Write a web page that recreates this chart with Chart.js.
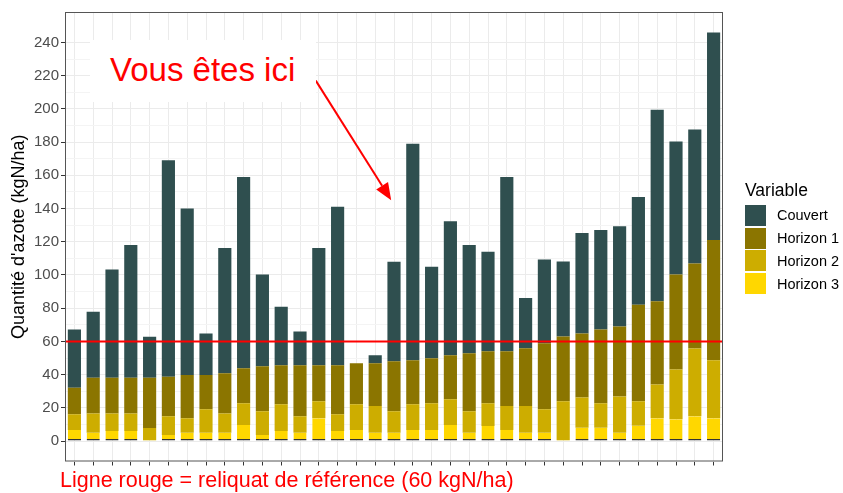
<!DOCTYPE html>
<html>
<head>
<meta charset="utf-8">
<script src="https://cdn.jsdelivr.net/npm/chart.js@4.4.1/dist/chart.umd.min.js"></script>
<style>
  body { margin: 0; background: #fff; }
  #wrap { position: relative; width: 843px; height: 493px; overflow: hidden; font-family: "Liberation Sans", Arial, sans-serif; }
  #chart-box { position: absolute; left: 0; top: 0; width: 843px; height: 493px; }
  #callout { position: absolute; left: 90px; top: 40px; width: 226px; height: 62px; background: #fff;
             color: #ff0000; font-size: 33px; line-height: 60px; padding-left: 20px; box-sizing: border-box; white-space: nowrap; }
  #caption { position: absolute; left: 60px; top: 468px; color: #ff0000; font-size: 21.5px; white-space: nowrap; }
  #legend { position: absolute; left: 745px; top: 179px; }
  #legend .title { font-size: 17.5px; color: #000; height: 25px; line-height: 22px; }
  #legend .item { display: flex; align-items: center; height: 22.8px; }
  #legend .key { width: 21px; height: 21px; margin-right: 11px; }
  #legend .lab { font-size: 14.5px; color: #000; }
</style>
</head>
<body>
<div id="wrap">
  <div id="chart-box"><canvas id="chart"></canvas></div>
  <div id="callout">Vous êtes ici</div>
  <div id="legend"></div>
  <div id="caption">Ligne rouge = reliquat de référence (60 kgN/ha)</div>
</div>
<script>
// parcelles (no labels shown on the axis)
const parcelles = ['P01', 'P02', 'P03', 'P04', 'P05', 'P06', 'P07', 'P08', 'P09', 'P10',
                   'P11', 'P12', 'P13', 'P14', 'P15', 'P16', 'P17', 'P18', 'P19', 'P20',
                   'P21', 'P22', 'P23', 'P24', 'P25', 'P26', 'P27', 'P28', 'P29', 'P30',
                   'P31', 'P32', 'P33', 'P34', 'P35'];

// nitrogen per layer (kgN/ha)
const horizon3 = [6.6, 5.0, 6.0, 6.0, 0.5, 3.6, 5.0, 5.0, 5.0, 9.6,
                  3.6, 6.0, 5.0, 13.8, 6.0, 6.6, 5.0, 5.0, 6.6, 6.6,
                  9.6, 5.0, 9.0, 6.6, 5.0, 5.0, 0.5, 8.0, 8.0, 5.0,
                  9.2, 13.8, 13.2, 15.0, 13.8];
const horizon2 = [9.6, 11.6, 10.6, 10.6, 7.3, 11.4, 8.8, 14.2, 11.6, 13.1,
                  14.4, 16.1, 10.0, 10.1, 10.2, 15.5, 16.1, 13.0, 15.5, 16.1,
                  15.5, 13.0, 13.7, 14.5, 16.1, 14.2, 23.4, 18.3, 14.7, 21.9,
                  14.7, 20.3, 29.9, 40.7, 34.9];
const horizon1 = [15.9, 21.5, 21.5, 21.5, 30.3, 23.7, 25.9, 20.5, 24.3, 21.2,
                  27.1, 23.6, 30.7, 21.8, 29.5, 24.8, 25.8, 30.1, 26.6, 27.2,
                  26.6, 34.9, 31.4, 33.0, 34.8, 39.7, 39.1, 38.5, 44.5, 42.1,
                  58.1, 50.1, 57.2, 51.2, 72.4];
const couvert = [35.1, 39.7, 65.2, 80.0, 24.7, 130.3, 100.3, 25.1, 75.4, 115.1,
                 55.2, 35.1, 20.3, 70.6, 95.3, 0, 4.8, 59.8, 130.3, 55.0,
                 80.6, 65.2, 59.8, 104.9, 30.3, 50.4, 45.1, 60.5, 59.9, 60.3,
                 65.0, 115.3, 80.0, 80.6, 124.9];

const seriesNames = ['Couvert', 'Horizon 1', 'Horizon 2', 'Horizon 3'];
const seriesColors = ['#2F4F4F', '#8B7500', '#CDAD00', '#FFD700'];

const yTickStep = 10;      // minor step, labels every 20
const reliquatRef = 60;

// callout arrow, in data units (category index, kgN/ha)
const arrowFrom = [12.84, 217];
const arrowTo = [16.85, 145];

const refLinePlugin = {
    id: 'refLine',
    afterDatasetsDraw(chart) {
        const { ctx, chartArea, scales } = chart;
        const y = scales.y.getPixelForValue(reliquatRef);
        ctx.save();
        ctx.strokeStyle = '#ff0000';
        ctx.lineWidth = 2;
        ctx.beginPath();
        ctx.moveTo(chartArea.left, y);
        ctx.lineTo(chartArea.right, y);
        ctx.stroke();

        // arrow towards "Vous êtes ici"
        const x0 = scales.x.getPixelForValue(0);
        const step = scales.x.getPixelForValue(1) - x0;
        const ax = x0 + arrowFrom[0] * step, ay = scales.y.getPixelForValue(arrowFrom[1]);
        const bx = x0 + arrowTo[0] * step, by = scales.y.getPixelForValue(arrowTo[1]);
        const ang = Math.atan2(by - ay, bx - ax);
        const headLen = 17, headW = 7;
        const hx = bx - headLen * Math.cos(ang), hy = by - headLen * Math.sin(ang);
        ctx.beginPath();
        ctx.moveTo(ax, ay);
        ctx.lineTo(hx, hy);
        ctx.stroke();
        ctx.fillStyle = '#ff0000';
        ctx.beginPath();
        ctx.moveTo(bx, by);
        ctx.lineTo(hx + headW * Math.sin(ang), hy - headW * Math.cos(ang));
        ctx.lineTo(hx - headW * Math.sin(ang), hy + headW * Math.cos(ang));
        ctx.closePath();
        ctx.fill();

        // panel border
        ctx.strokeStyle = '#555';
        ctx.lineWidth = 1;
        ctx.strokeRect(chartArea.left + 0.5, chartArea.top + 0.5,
                       chartArea.right - chartArea.left - 1, chartArea.bottom - chartArea.top - 1);
        ctx.restore();
    }
};

function gridColor(ctx) {
    const v = ctx.tick ? ctx.tick.value : null;
    if (v === null) return 'rgba(0,0,0,0)';
    if (v % 20 === 0) return '#ebebeb';
    if (v % 10 === 0) return '#f4f4f4';
    return 'rgba(0,0,0,0)';
}

const layers = [horizon3, horizon2, horizon1, couvert];
const datasets = layers.map((vals, i) => {
    const k = 3 - i;
    return {
        label: seriesNames[k],
        data: vals,
        backgroundColor: seriesColors[k],
        borderColor: '#333',
        borderWidth: k === 3 ? { top: 0, left: 0, right: 0, bottom: 1.5 } : 0,
        borderSkipped: false,
        barPercentage: 0.7,
        categoryPercentage: 1.0
    };
});

const ctx = document.getElementById('chart').getContext('2d');
new Chart(ctx, {
    type: 'bar',
    data: { labels: parcelles, datasets },
    options: {
        responsive: true,
        maintainAspectRatio: false,
        animation: false,
        layout: { padding: { left: 0, top: 12, right: 120, bottom: 27.5 } },
        plugins: {
            legend: { display: false },
            tooltip: { enabled: false }
        },
        scales: {
            x: {
                stacked: true,
                offset: true,
                afterFit: (s) => { s.height = 4; },
                ticks: { display: false },
                grid: { offset: false, color: '#ebebeb', drawTicks: true, tickLength: 4, tickColor: '#333' },
                border: { display: false }
            },
            y: {
                stacked: true,
                min: -12.3,
                max: 258.3,
                afterFit: (s) => { s.width = 65; },
                ticks: {
                    stepSize: yTickStep,
                    autoSkip: false,
                    color: '#4d4d4d',
                    font: { size: 15, family: '"Liberation Sans", Arial, sans-serif' },
                    padding: 2,
                    callback: (v) => (v % 20 === 0 ? v : '')
                },
                grid: {
                    color: gridColor,
                    tickLength: 4,
                    tickColor: (c) => (c.tick && c.tick.value % 20 === 0 ? '#333' : 'rgba(0,0,0,0)')
                },
                border: { display: false },
                title: {
                    display: true,
                    text: "Quantité d'azote (kgN/ha)",
                    color: '#000',
                    font: { size: 18, family: '"Liberation Sans", Arial, sans-serif' },
                    padding: { top: 8, bottom: 0 }
                }
            }
        }
    },
    plugins: [refLinePlugin]
});

// legend
const legendEl = document.getElementById('legend');
let html = '<div class="title">Variable</div>';
seriesNames.forEach((n, i) => {
    html += '<div class="item"><div class="key" style="background:' + seriesColors[i] + '"></div><span class="lab">' + n + '</span></div>';
});
legendEl.innerHTML = html;
</script>
</body>
</html>
